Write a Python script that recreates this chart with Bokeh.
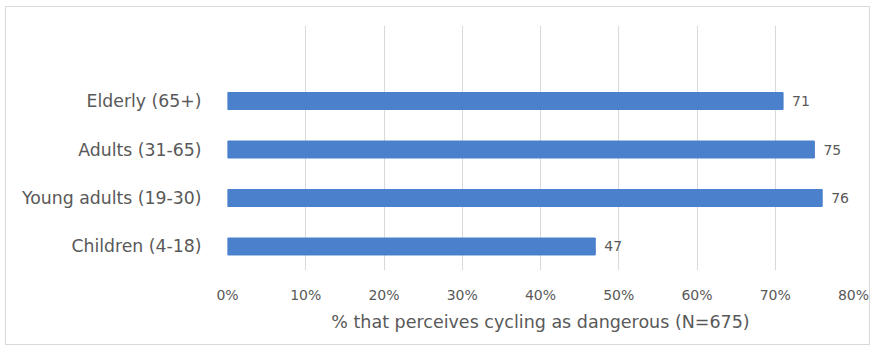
from bokeh.plotting import figure
from bokeh.models import Range1d, FixedTicker, ColumnDataSource
from bokeh.core.properties import value
from bokeh.embed import file_html
from bokeh.resources import INLINE

categories = ["Children (4-18)", "Young adults (19-30)", "Adults (31-65)", "Elderly (65+)"]
values = [47, 76, 75, 71]
x_ticks = [0, 10, 20, 30, 40, 50, 60, 70, 80]
x_title = "% that perceives cycling as dangerous (N=675)"

FONT = "DejaVu Sans"
GRAY = "#595959"
BLUE = "#4a80cc"

pos = list(range(len(categories)))
src = ColumnDataSource(dict(y=pos, v=values, lab=[str(v) for v in values]))

p = figure(width=865, height=339, output_backend="svg", toolbar_location=None,
           x_range=Range1d(0, 80), y_range=Range1d(-0.495, 4.557),
           min_border_left=221, min_border_right=18, min_border_top=18, min_border_bottom=76,
           margin=(6, 0, 0, 5), styles={"border": "1px solid #d9d9d9"})
p.outline_line_color = None
p.background_fill_color = "white"

p.hbar(y="y", right="v", left=0, height=0.35, color=BLUE, source=src)
p.text(x="v", y="y", text="lab", source=src, x_offset=9, text_align="left",
       text_baseline="middle", text_font=value(FONT), text_font_size="14px",
       text_color=GRAY)

xa = p.xaxis[0]
xa.ticker = FixedTicker(ticks=x_ticks)
xa.major_label_overrides = {t: f"{t}%" for t in x_ticks}
xa.axis_line_color = None
xa.major_tick_line_color = None
xa.minor_tick_line_color = None
xa.major_label_standoff = 10
xa.major_label_text_font = FONT
xa.major_label_text_font_size = "14px"
xa.major_label_text_color = GRAY
xa.axis_label = x_title
xa.axis_label_text_font = FONT
xa.axis_label_text_font_size = "17.5px"
xa.axis_label_text_font_style = "normal"
xa.axis_label_text_color = GRAY
xa.axis_label_standoff = 6

ya = p.yaxis[0]
ya.ticker = FixedTicker(ticks=pos)
ya.major_label_overrides = {i: c for i, c in enumerate(categories)}
ya.axis_line_color = None
ya.major_tick_line_color = None
ya.minor_tick_line_color = None
ya.major_label_standoff = 20
ya.major_label_text_font = FONT
ya.major_label_text_font_size = "17.3px"
ya.major_label_text_color = GRAY

p.xgrid.ticker = FixedTicker(ticks=x_ticks)
p.xgrid.grid_line_color = "#d9d9d9"
p.ygrid.grid_line_color = None

open("out.html", "w").write(file_html(p, INLINE))
